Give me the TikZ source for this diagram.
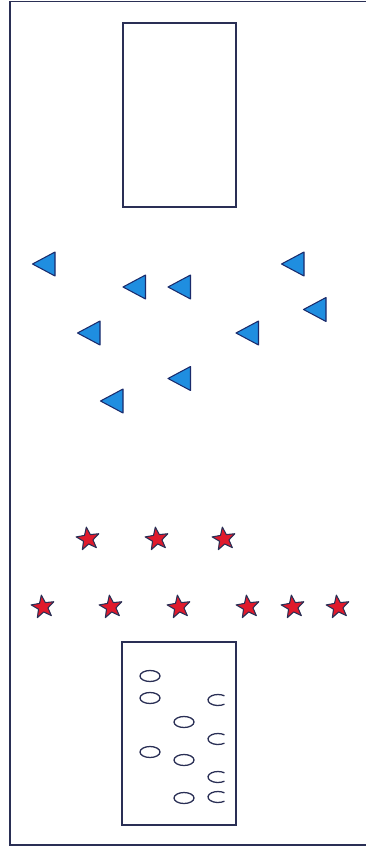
\documentclass[tikz,border=0pt]{standalone}
\usepackage{tikz}
\usepackage{xcolor}
\definecolor{plInk}{HTML}{2A2F55}
\definecolor{plBlue}{HTML}{1F8EE0}
\definecolor{plNavy}{HTML}{1A2A6B}
\definecolor{plRed}{HTML}{E01A2C}
\tikzset{
    frameline/.style={plInk, line width=1.2pt},
    goalbox/.style={plInk, line width=1pt},
    conefill/.style={fill=plBlue, draw=plNavy, line width=0.9pt, line join=round},
    starfill/.style={fill=plRed, draw=plInk, line width=0.9pt, line join=round},
    ringline/.style={plInk, line width=1.1pt}
}
\newcommand{\plCone}[2]{%
    \draw[conefill, shift={(#1,#2)}] (-11.5,0) -- (11,-12) -- (11,12) -- cycle;
}
\newcommand{\plStar}[2]{%
    \draw[starfill, shift={(#1,#2)}, rotate=8]
        (-90:12) -- (-54:5) -- (-18:12) -- (18:5) -- (54:12)
        -- (90:5) -- (126:12) -- (162:5) -- (198:12) -- (234:5) -- cycle;
}
\newcommand{\plRing}[2]{%
    \draw[ringline] (#1,#2) ellipse [x radius=10, y radius=5.5];
}
\newcommand{\plHalfRing}[2]{%
    \draw[ringline, shift={(#1,#2)}] (50:10 and 5.5)
        arc [start angle=50, end angle=310, x radius=10, y radius=5.5];
}

\begin{document}
\begin{tikzpicture}[x=0.03cm, y=-0.03cm]
    \useasboundingbox (0,0) rectangle (365,852);
    % outer pitch
    \draw[frameline] (370,1.5) -- (10,1.5) -- (10,845) -- (370,845);
    % goals
    \draw[goalbox] (123,23) rectangle (236,207);
    \draw[goalbox] (122,642) rectangle (236,825);
    % cones
    \plCone{44}{264}
    \plCone{134.5}{287}
    \plCone{179.5}{287}
    \plCone{293}{264}
    \plCone{315}{309.5}
    \plCone{89}{333}
    \plCone{247.5}{333}
    \plCone{179.5}{378.5}
    \plCone{112}{401}
    % stars
    \foreach \x in {88, 157, 224} {
        \plStar{\x}{539}
    }
    \foreach \x in {43, 111, 179, 248, 293, 338} {
        \plStar{\x}{607}
    }
    % rings
    \plRing{150}{676}
    \plRing{150}{698}
    \plRing{150}{752}
    \plRing{184}{722}
    \plRing{184}{760}
    \plRing{184}{798}
    \plHalfRing{218}{700}
    \plHalfRing{218}{739}
    \plHalfRing{218}{777}
    \plHalfRing{218}{797}
\end{tikzpicture}
\end{document}
